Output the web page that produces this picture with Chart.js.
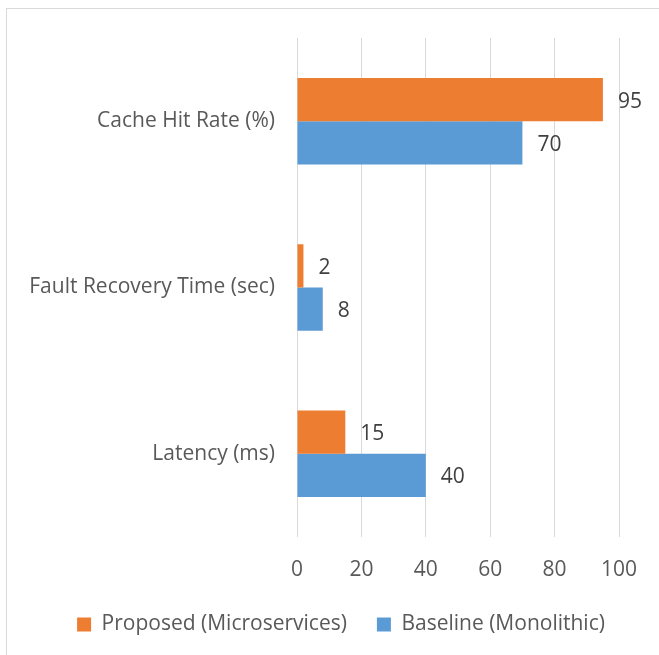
<!DOCTYPE html>
<html><head><meta charset="utf-8">
<script src="https://cdn.jsdelivr.net/npm/chart.js@4"></script>
<style>html,body{margin:0;padding:0;background:#fff}#wrap{width:659px;height:655px}</style>
</head><body><div id="wrap"><canvas id="c" width="659" height="655"></canvas></div>
<script>
const categories = ["Cache Hit Rate (%)", "Fault Recovery Time (sec)", "Latency (ms)"];
const seriesNames = ["Proposed (Microservices)", "Baseline (Monolithic)"];
const proposed = [95, 2, 15];
const baseline = [70, 8, 40];
const xTicks = [0, 20, 40, 60, 80, 100];

const FONT = "'Open Sans', sans-serif";

const borderPlugin = {
  id: 'borderBox',
  beforeDraw(chart) {
    const ctx = chart.ctx;
    ctx.save();
    ctx.fillStyle = '#fff';
    ctx.fillRect(0, 0, chart.width, chart.height);
    ctx.strokeStyle = '#d9d9d9';
    ctx.lineWidth = 1;
    ctx.strokeRect(6.5, 8.5, 720, 720);
    ctx.restore();
  }
};

const labelPlugin = {
  id: 'dataLabels',
  afterDatasetsDraw(chart) {
    const ctx = chart.ctx;
    ctx.save();
    ctx.fillStyle = '#404040';
    ctx.font = "21px " + FONT;
    ctx.textAlign = 'left';
    ctx.textBaseline = 'middle';
    chart.data.datasets.forEach((ds, i) => {
      const meta = chart.getDatasetMeta(i);
      meta.data.forEach((bar, j) => {
        ctx.fillText(String(ds.data[j]), bar.x + 15, bar.y + 2);
      });
    });
    ctx.restore();
  }
};

new Chart(document.getElementById('c'), {
  type: 'bar',
  data: {
    labels: categories,
    datasets: [
      { label: seriesNames[0], data: proposed, backgroundColor: '#ED7D31', categoryPercentage: 0.52, barPercentage: 1.0 },
      { label: seriesNames[1], data: baseline, backgroundColor: '#5B9BD5', categoryPercentage: 0.52, barPercentage: 1.0 }
    ]
  },
  options: {
    indexAxis: 'y',
    responsive: false,
    animation: false,
    layout: { padding: { top: 38, right: 0, left: 23, bottom: 10 } },
    scales: {
      x: {
        min: 0, max: 100,
        afterBuildTicks(scale) { scale.ticks = xTicks.map(v => ({ value: v })); },
        grid: { color: '#d9d9d9', drawTicks: false, lineWidth: 1 },
        border: { display: false },
        ticks: { color: '#595959', font: { family: FONT, size: 21 }, padding: 20 },
        afterFit(scale) { scale.height = 47; scale.paddingRight = 40; }
      },
      y: {
        grid: { display: false, drawTicks: false },
        border: { display: false },
        ticks: { color: '#595959', font: { family: FONT, size: 21 }, padding: 22 },
        afterFit(scale) { scale.width = 274; }
      }
    },
    plugins: {
      legend: {
        position: 'bottom',
        labels: { color: '#595959', font: { family: FONT, size: 21 }, boxWidth: 14, boxHeight: 14, padding: 30 }
      },
      tooltip: { enabled: false }
    }
  },
  plugins: [borderPlugin, labelPlugin]
});
</script></body></html>
